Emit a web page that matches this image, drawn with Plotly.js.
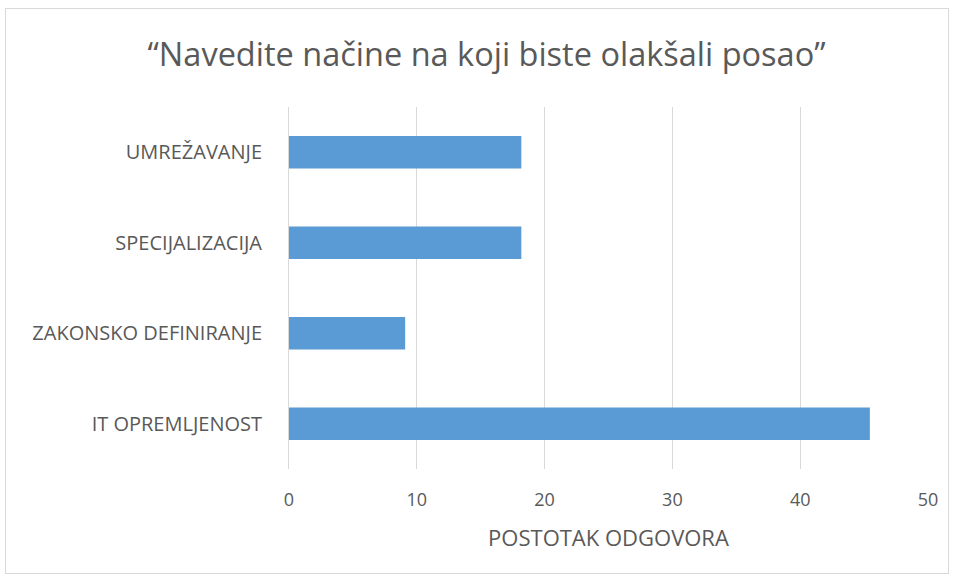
<!DOCTYPE html>
<html>
<head>
<meta charset="utf-8">
<script src="https://cdn.plot.ly/plotly-3.0.1.min.js"></script>
<style>
html,body{margin:0;padding:0;background:#fff;}
#wrap{position:relative;width:954px;height:578px;}
#chart{width:954px;height:578px;}
#frame{position:absolute;left:5px;top:8px;width:944px;height:566px;border:1px solid #d9d9d9;pointer-events:none;box-sizing:border-box;}
</style>
</head>
<body>
<div id="wrap"><div id="chart"></div><div id="frame"></div></div>
<script>
const categories = ["IT OPREMLJENOST", "ZAKONSKO DEFINIRANJE", "SPECIJALIZACIJA", "UMREŽAVANJE"];
const values = [45.45, 9.09, 18.18, 18.18];
const titleText = "“Navedite načine na koji biste olakšali posao”";
const xTitle = "POSTOTAK ODGOVORA";
const xTicks = [0, 10, 20, 30, 40, 50];

const font = "Open Sans, Lato, sans-serif";
Plotly.newPlot("chart", [{
  type: "bar",
  orientation: "h",
  y: categories,
  x: values,
  marker: {color: "#5b9bd5"},
  hoverinfo: "x+y"
}], {
  width: 954, height: 578,
  margin: {l: 289, r: 26, t: 107, b: 109},
  paper_bgcolor: "#fff", plot_bgcolor: "#fff",
  bargap: 0.64,
  showlegend: false,
  title: {text: titleText, x: 0.51, xanchor: "center", y: 0.905, yanchor: "middle",
    font: {family: font, size: 32.5, color: "#595959"}},
  xaxis: {
    range: [0, 50], tickvals: xTicks, ticktext: xTicks.map(String),
    showgrid: true, gridcolor: "#d9d9d9", gridwidth: 1,
    zeroline: false, showline: false,
    ticks: "", ticklabelstandoff: 18,
    tickfont: {family: font, size: 18, color: "#595959"},
    title: {text: xTitle, standoff: 20, font: {family: font, size: 22, color: "#595959"}}
  },
  yaxis: {
    type: "category", categoryorder: "array", categoryarray: categories,
    showline: true, linecolor: "#d9d9d9", linewidth: 1,
    showgrid: false, zeroline: false, ticks: "", ticklabelstandoff: 22,
    tickfont: {family: font, size: 20, color: "#595959"}
  }
}, {displayModeBar: false, staticPlot: true});
</script>
</body>
</html>
